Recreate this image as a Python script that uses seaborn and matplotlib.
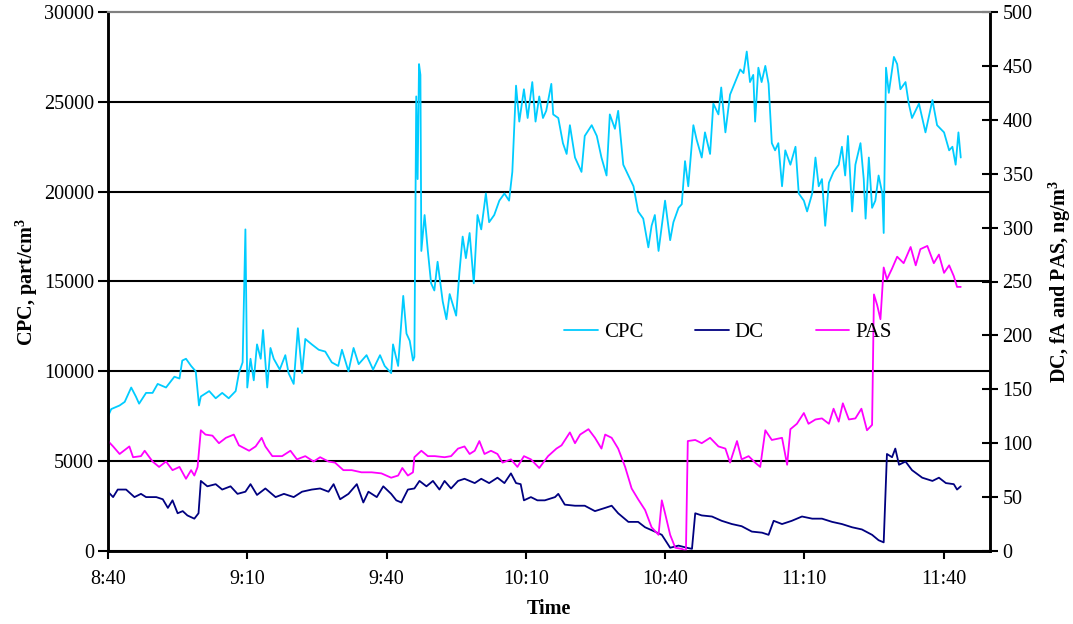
import numpy as np
import matplotlib
matplotlib.use("Agg")
import matplotlib.pyplot as plt
import seaborn as sns

sns.set_style("white")
plt.rcParams['font.family'] = ['Liberation Serif', 'DejaVu Serif']
plt.rcParams['mathtext.fontset'] = 'custom'
plt.rcParams['mathtext.rm'] = 'Liberation Serif'
plt.rcParams['mathtext.bf'] = 'Liberation Serif:bold'
plt.rcParams['text.color'] = 'black'
plt.rcParams['axes.labelcolor'] = 'black'
plt.rcParams['xtick.color'] = 'black'
plt.rcParams['ytick.color'] = 'black'

# ── data (minutes after 8:40) ─────────────────────────────
cpc_t = [0.0, 0.7, 2.5, 3.6, 5.0, 6.0, 6.7, 8.2, 9.6, 10.7,
         12.5, 14.3, 15.4, 16.0, 16.8, 17.9, 18.9, 19.6, 20.0, 21.8,
         23.2, 24.6, 26.0, 27.5, 28.2, 29.0, 29.6, 30.0, 30.7, 31.4,
         32.1, 32.9, 33.4, 34.3, 35.0, 35.7, 37.0, 38.2, 38.9, 40.0,
         40.9, 41.8, 42.5, 43.9, 45.4, 46.8, 48.2, 49.6, 50.4, 51.8,
         52.9, 54.0, 55.7, 57.1, 58.6, 59.6, 61.0, 61.4, 62.5, 63.6,
         64.3, 65.0, 65.7, 66.0, 66.4, 66.7, 67.0, 67.3, 67.5, 68.2,
         68.9, 69.6, 70.3, 71.0, 72.1, 72.9, 73.6, 74.3, 75.0, 75.7,
         76.4, 77.1, 77.9, 78.8, 79.6, 80.4, 81.4, 82.1, 83.2, 84.3,
         85.4, 86.4, 87.1, 87.9, 88.6, 89.6, 90.4, 91.4, 92.1, 92.9,
         93.7, 94.4, 95.5, 95.9, 97.0, 98.0, 98.8, 99.5, 100.6, 102.0,
         102.7, 104.2, 105.3, 106.3, 107.4, 108.1, 109.2, 109.9, 111.0, 112.1,
         113.2, 114.2, 115.3, 116.4, 117.1, 117.8, 118.6, 120.0, 121.1, 121.8,
         122.9, 123.6, 124.3, 125.0, 126.1, 126.8, 127.9, 128.6, 129.7, 130.4,
         131.5, 132.1, 133.0, 134.0, 135.1, 136.2, 136.9, 137.6, 138.3, 139.0,
         139.4, 140.1, 140.8, 141.6, 142.3, 143.0, 143.7, 144.4, 145.2, 145.9,
         147.0, 148.1, 148.8, 149.9, 150.6, 151.7, 152.4, 153.1, 153.8, 154.5,
         155.3, 156.3, 157.4, 158.1, 158.8, 159.4, 160.3, 161.0, 162.1, 162.8,
         163.2, 163.9, 164.6, 165.3, 166.0, 166.8, 167.1, 167.6, 168.2, 169.3,
         170.0, 170.7, 171.8, 172.5, 173.2, 174.7, 176.1, 177.6, 178.6, 180.1,
         181.2, 181.9, 182.6, 183.2, 183.7]
cpc_v = [7500, 7900, 8100, 8300, 9100, 8600, 8200, 8800, 8800, 9300,
         9100, 9700, 9600, 10600, 10700, 10300, 10000, 8100, 8600, 8900,
         8500, 8800, 8500, 8900, 9900, 10500, 17900, 9100, 10700, 9500,
         11500, 10700, 12300, 9100, 11300, 10700, 10100, 10900, 9900, 9300,
         12400, 9900, 11800, 11500, 11200, 11100, 10500, 10300, 11200, 10000,
         11300, 10400, 10900, 10100, 10900, 10300, 9900, 11500, 10300, 14200,
         12100, 11700, 10600, 10800, 25300, 20700, 27100, 26500, 16700, 18700,
         16700, 14900, 14500, 16100, 13900, 12900, 14300, 13700, 13100, 15500,
         17500, 16300, 17700, 14900, 18700, 17900, 19900, 18300, 18700, 19500,
         19900, 19500, 21100, 25900, 23900, 25700, 24100, 26100, 23900, 25300,
         24100, 24500, 26000, 24300, 24100, 22700, 22100, 23700, 21900, 21100,
         23100, 23700, 23100, 21900, 20900, 24300, 23500, 24500, 21500, 20900,
         20300, 18900, 18500, 16900, 18100, 18700, 16700, 19500, 17300, 18300,
         19100, 19300, 21700, 20300, 23700, 22900, 21900, 23300, 22100, 24900,
         24300, 25800, 23300, 25400, 26100, 26800, 26600, 27800, 26100, 26500,
         23900, 26900, 26100, 27000, 26000, 22700, 22300, 22700, 20300, 22300,
         21500, 22500, 19900, 19500, 18900, 19900, 21900, 20300, 20700, 18100,
         20500, 21100, 21500, 22500, 20900, 23100, 18900, 21500, 22700, 20700,
         18500, 21900, 19100, 19500, 20900, 19900, 17700, 26900, 25500, 27500,
         27100, 25700, 26100, 24900, 24100, 24900, 23300, 25100, 23700, 23300,
         22300, 22500, 21500, 23300, 21900]

dc_t = [0.0, 1.1, 2.1, 3.9, 5.7, 7.1, 8.2, 10.4, 11.8, 12.9,
        13.9, 15.0, 16.1, 17.1, 18.6, 19.5, 20.0, 21.4, 23.2, 24.6,
        26.4, 27.9, 29.6, 30.7, 32.1, 33.9, 36.1, 37.9, 40.0, 41.8,
        43.9, 45.7, 47.5, 48.6, 50.0, 51.8, 53.6, 55.0, 56.1, 57.9,
        59.3, 61.0, 62.1, 63.2, 64.6, 66.0, 67.1, 68.6, 70.0, 71.4,
        72.5, 73.9, 75.4, 76.8, 79.0, 80.4, 82.1, 83.9, 85.4, 86.8,
        87.9, 88.9, 89.6, 91.1, 92.5, 94.1, 96.3, 97.0, 98.4, 100.6,
        102.7, 104.9, 107.1, 108.5, 109.9, 112.1, 114.2, 115.7, 117.8, 119.3,
        121.1, 122.9, 124.7, 125.8, 126.5, 127.9, 130.1, 132.2, 134.4, 136.5,
        138.7, 140.9, 142.3, 143.4, 145.2, 147.3, 149.5, 151.7, 153.8, 156.0,
        158.1, 160.3, 162.4, 164.6, 166.0, 167.1, 167.8, 168.9, 169.6, 170.4,
        171.8, 173.2, 175.4, 177.6, 179.0, 180.5, 182.2, 182.9, 183.7]
dc_v = [55, 50, 57, 57, 50, 53, 50, 50, 48, 40,
        47, 35, 37, 33, 30, 35, 65, 60, 62, 57,
        60, 53, 55, 62, 52, 58, 50, 53, 50, 55,
        57, 58, 55, 62, 48, 53, 62, 45, 55, 50,
        60, 53, 47, 45, 57, 58, 65, 60, 65, 57,
        65, 58, 65, 67, 63, 67, 63, 68, 63, 72,
        63, 62, 47, 50, 47, 47, 50, 53, 43, 42,
        42, 37, 40, 42, 35, 27, 27, 22, 18, 15,
        3, 5, 3, 2, 35, 33, 32, 28, 25, 23,
        18, 17, 15, 28, 25, 28, 32, 30, 30, 27,
        25, 22, 20, 15, 10, 8, 90, 87, 95, 80,
        83, 75, 68, 65, 68, 63, 62, 57, 60]

pas_t = [0.0, 1.1, 2.5, 4.6, 5.4, 7.1, 7.9, 9.6, 11.0, 12.5,
         13.9, 15.4, 16.8, 17.9, 18.6, 19.3, 20.0, 21.0, 22.5, 23.9,
         25.4, 27.1, 28.2, 30.4, 31.8, 33.1, 33.9, 35.4, 37.5, 39.3,
         40.7, 42.5, 44.3, 45.7, 47.5, 48.9, 50.7, 52.5, 54.6, 56.8,
         58.9, 61.0, 62.5, 63.4, 64.6, 65.7, 66.0, 67.5, 68.9, 70.4,
         72.5, 73.9, 75.4, 76.8, 77.9, 79.0, 80.0, 81.1, 82.5, 83.9,
         85.0, 86.8, 88.2, 89.6, 91.1, 92.9, 94.8, 96.6, 97.7, 99.5,
         100.6, 101.7, 103.5, 104.9, 106.3, 107.1, 108.5, 109.9, 111.4, 112.8,
         114.2, 115.7, 117.1, 118.6, 119.3, 120.0, 121.1, 122.2, 123.6, 124.5,
         124.9, 126.5, 127.9, 129.7, 131.5, 133.0, 134.0, 135.5, 136.5, 138.0,
         139.4, 140.5, 141.6, 143.0, 145.2, 146.3, 147.0, 148.4, 149.9, 150.9,
         152.4, 153.8, 155.3, 156.3, 157.4, 158.3, 159.6, 161.0, 162.3, 163.5,
         164.6, 165.0, 165.7, 166.4, 167.1, 167.8, 168.9, 170.0, 171.4, 172.9,
         174.0, 175.0, 176.5, 177.9, 179.0, 180.1, 181.2, 182.2, 182.9, 183.7]
pas_v = [102, 97, 90, 97, 87, 88, 93, 83, 78, 83,
         75, 78, 67, 75, 70, 78, 112, 108, 107, 100,
         105, 108, 98, 93, 97, 105, 97, 88, 88, 93,
         85, 88, 83, 87, 83, 82, 75, 75, 73, 73,
         72, 68, 70, 77, 70, 73, 87, 93, 88, 88,
         87, 88, 95, 97, 90, 93, 102, 90, 93, 90,
         82, 85, 78, 88, 85, 77, 88, 95, 98, 110,
         100, 108, 113, 105, 95, 108, 105, 95, 78, 58,
         48, 38, 22, 15, 47, 35, 15, 3, 2, 0,
         102, 103, 100, 105, 97, 95, 82, 102, 85, 88,
         82, 78, 112, 103, 105, 80, 113, 118, 128, 118,
         122, 123, 118, 132, 120, 137, 122, 123, 132, 112,
         117, 238, 228, 215, 263, 252, 262, 273, 267, 282,
         265, 280, 283, 267, 275, 258, 265, 255, 245, 245]

tick_min = [0, 30, 60, 90, 120, 150, 180]
tick_lbl = ["8:40", "9:10", "9:40", "10:10", "10:40", "11:10", "11:40"]

CPC_COL, DC_COL, PAS_COL = "#00CCFF", "#000080", "#FF00FF"
FS = 14.5

# ── figure ───────────────────────────────────────────────
fig = plt.figure(figsize=(10.73, 6.24), dpi=100)
ax = fig.add_axes([108/1073, 1 - 551/624, 882/1073, 539/624])
ax2 = ax.twinx()

sns.lineplot(x=cpc_t, y=cpc_v, ax=ax, color=CPC_COL, lw=1.3,
             estimator=None, sort=False, label="CPC", legend=False)
sns.lineplot(x=dc_t, y=dc_v, ax=ax2, color=DC_COL, lw=1.3,
             estimator=None, sort=False, label="DC", legend=False)
sns.lineplot(x=pas_t, y=pas_v, ax=ax2, color=PAS_COL, lw=1.3,
             estimator=None, sort=False, label="PAS", legend=False)

ax.set_xlim(0, 190)
ax.set_ylim(0, 30000)
ax2.set_ylim(0, 500)
ax.set_xticks(tick_min)
ax.set_xticklabels(tick_lbl)
ax.set_yticks(np.arange(0, 30001, 5000))
ax2.set_yticks(np.arange(0, 501, 50))

ax.yaxis.grid(True, color="black", lw=1.5)
ax.get_ygridlines()[-1].set_visible(False)
ax.xaxis.grid(False)
ax2.grid(False)

for a in (ax, ax2):
    for s in ("left", "bottom", "right"):
        a.spines[s].set_color("black")
        a.spines[s].set_linewidth(1.8)
    a.spines["top"].set_color("#808080")
    a.spines["top"].set_linewidth(1.5)

ax.tick_params(axis="y", direction="out", length=7, width=1.5, labelsize=FS, pad=3,
               left=True)
ax.tick_params(axis="x", direction="out", length=6, width=1.5, labelsize=FS, pad=8,
               bottom=True)
ax2.tick_params(axis="y", direction="inout", length=12, width=1.5, labelsize=FS,
                pad=3, right=True)

ax.set_xlabel("Time", fontsize=FS, fontweight="bold", labelpad=7)
ax.set_ylabel(r"CPC, part/cm$^\mathbf{3}$", fontsize=FS, fontweight="bold", labelpad=3)
ax2.set_ylabel(r"DC, fA and PAS, ng/m$^\mathbf{3}$", fontsize=FS, fontweight="bold",
               labelpad=10)

h1, l1 = ax.get_legend_handles_labels()
h2, l2 = ax2.get_legend_handles_labels()
ax2.legend(h1 + h2, l1 + l2, loc="center", bbox_to_anchor=(0.703, 0.406), ncol=3,
           frameon=False, fontsize=FS + 0.5, handlelength=1.6, handletextpad=0.3,
           columnspacing=2.5)

fig.savefig("out.png", dpi=100)
